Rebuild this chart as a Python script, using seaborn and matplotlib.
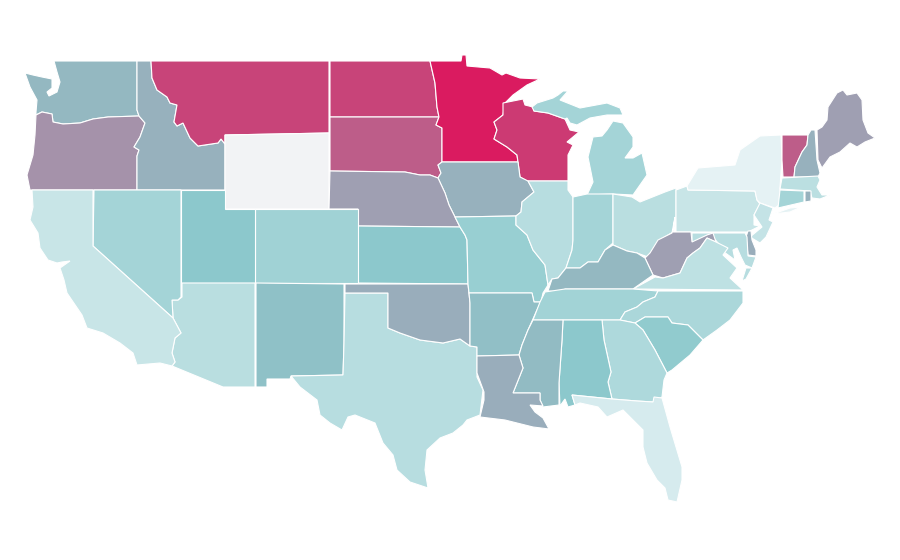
import matplotlib
matplotlib.use("Agg")
import matplotlib.pyplot as plt
import numpy as np
import seaborn as sns

# map outlines, in picture pixels
WA = [(36,115),(36,112),(37,100),(30,87),(25,73),(33,75),(42,77),(52,79),(52,88),(47,92),(49,96),(57,92),(60,82),(57,72),(54,61),(137,61),(137,110),(139,116),(108,117),(93,119),(80,123),(63,124),(53,122),(52,114),(42,112)]
OR = [(36,115),(42,112),(52,114),(53,122),(63,124),(80,123),(93,119),(108,117),(139,116),(145,123),(140,137),(134,147),(139,150),(137,156),(137,190),(30,190),(27,175),(33,155),(35,135)]
ID = [(137,61),(151,61),(152,78),(157,90),(167,97),(170,103),(177,105),(174,122),(177,126),(183,123),(190,138),(198,146),(218,143),(221,139),(225,144),(225,190),(137,190),(137,156),(139,150),(134,147),(140,137),(145,123),(139,116),(137,110)]
MT = [(151,61),(329,61),(329,133),(225,135),(225,144),(221,139),(218,143),(198,146),(190,138),(183,123),(177,126),(174,122),(177,105),(170,103),(167,97),(157,90),(152,78)]
WY = [(225,135),(329,133),(329,209),(225,209)]
ND = [(330,61),(430,61),(435,83),(437,107),(439,117),(330,117)]
SD = [(330,117),(439,117),(436,125),(442,128),(442,162),(438,165),(441,173),(438,178),(430,175),(420,175),(405,172),(330,171)]
MN = [(430,61),(461,61),(462,55),(466,55),(467,66),(490,68),(502,75),(506,73),(520,78),(540,79),(527,85),(513,95),(505,103),(503,115),(494,122),(497,130),(494,139),(507,147),(517,155),(518,162),(442,162),(442,128),(436,125),(439,117),(437,107),(435,83)]
WI = [(503,103),(523,99),(525,105),(533,107),(534,111),(548,113),(565,119),(570,130),(579,132),(567,142),(573,145),(568,155),(568,181),(527,181),(520,177),(518,162),(517,155),(507,147),(494,139),(497,130),(494,122),(503,115)]
MI_UP = [(532,107),(537,103),(553,98),(558,95),(563,91),(568,91),(560,100),(580,108),(607,103),(620,108),(623,115),(607,115),(590,118),(577,125),(570,123),(567,118),(565,119),(548,113),(534,111)]
MI_LOW = [(587,195),(593,182),(588,157),(593,137),(602,136),(607,130),(613,121),(623,123),(633,137),(633,147),(625,158),(633,158),(642,153),(647,175),(633,195),(613,194)]
IA = [(442,162),(518,162),(520,177),(528,181),(534,192),(522,202),(521,212),(516,216),(455,217),(449,205),(445,193),(438,178),(441,173),(438,165)]
NE = [(330,171),(405,172),(420,175),(430,175),(438,178),(445,193),(449,205),(455,217),(460,227),(358,226),(358,209),(329,209)]
KS = [(358,226),(460,227),(465,235),(467,240),(468,284),(358,283)]
CO = [(255,209),(358,209),(358,283),(255,283)]
UT = [(181,190),(225,190),(225,209),(255,209),(255,283),(181,283)]
NM = [(256,283),(344,284),(344,343),(343,375),(291,376),(290,379),(267,379),(267,387),(256,387)]
AZ = [(182,283),(255,283),(255,387),(223,387),(172,366),(175,362),(172,353),(175,338),(181,333),(173,318),(172,300),(178,300),(182,297)]
NV = [(94,190),(181,190),(181,297),(178,300),(172,300),(173,318),(93,246)]
CA = [(32,190),(93,190),(93,246),(173,318),(181,333),(175,338),(172,353),(175,362),(172,366),(160,363),(137,365),(133,353),(120,343),(103,333),(87,328),(82,315),(67,293),(64,280),(60,268),(70,261),(62,262),(57,263),(48,260),(40,248),(38,233),(30,220),(33,207)]
TX = [(345,293),(388,293),(388,328),(400,333),(420,340),(443,343),(460,339),(470,346),(477,347),(477,377),(483,390),(480,415),(467,420),(463,425),(453,433),(440,438),(427,450),(425,470),(428,488),(410,482),(397,470),(393,455),(383,443),(375,423),(355,415),(348,417),(342,430),(330,423),(320,415),(317,400),(300,387),(291,376),(343,375),(344,343)]
OK = [(345,284),(468,284),(470,303),(470,346),(460,339),(443,343),(420,340),(400,333),(388,328),(388,293),(345,293)]
MO = [(455,217),(516,216),(516,225),(527,235),(533,250),(545,265),(548,285),(543,293),(541,302),(534,302),(532,293),(469,293),(468,284),(467,240),(465,235),(460,227)]
AR = [(469,293),(532,293),(534,302),(541,302),(537,310),(528,330),(522,345),(519,355),(477,356),(477,347),(470,346),(470,303)]
IL = [(528,181),(568,181),(568,190),(573,197),(573,240),(572,250),(566,268),(558,278),(552,279),(548,285),(545,265),(533,250),(527,235),(516,225),(516,216),(521,212),(522,202),(534,192)]
IN = [(573,197),(587,194),(613,194),(613,243),(605,250),(598,262),(588,262),(580,268),(566,268),(572,250),(573,240)]
OH = [(613,194),(632,197),(640,202),(655,196),(665,192),(676,188),(676,217),(673,232),(660,240),(648,257),(637,253),(627,251),(613,245)]
PA = [(676,190),(687,186),(688,190),(755,191),(757,200),(760,204),(754,215),(754,225),(760,226),(748,232),(676,232)]
NY = [(688,190),(687,186),(698,168),(735,165),(740,150),(760,136),(781,135),(782,160),(780,187),(779,205),(775,208),(760,203),(757,200),(755,191)]
NY_LI = [(773,214),(790,208),(801,207),(790,212)]
VT = [(782,135),(808,135),(807,145),(802,152),(795,167),(794,177),(783,177),(782,160)]
NH = [(811,130),(815,130),(817,160),(820,173),(818,177),(794,177),(795,167),(802,152),(807,145),(808,135)]
ME = [(817,130),(822,127),(827,120),(828,107),(837,93),(843,90),(847,95),(857,93),(862,100),(863,120),(868,133),(875,138),(865,142),(857,147),(850,143),(840,152),(830,157),(822,168),(818,160)]
MA = [(782,178),(818,176),(820,180),(817,187),(822,195),(830,195),(820,199),(812,198),(810,191),(780,189)]
CT = [(780,190),(804,191),(804,202),(778,208)]
RI = [(805,191),(811,191),(811,201),(805,202)]
NJ = [(760,203),(773,208),(769,220),(773,222),(766,237),(760,243),(750,237),(762,227),(754,215)]
DE = [(748,231),(751,231),(752,240),(756,250),(756,256),(748,255),(746,237)]
MD = [(692,233),(745,233),(747,237),(748,256),(756,257),(752,268),(745,265),(741,257),(737,248),(733,250),(735,260),(724,252),(718,243),(713,237),(708,235),(703,238),(692,243)]
VA_SHORE = [(746,268),(752,268),(746,279),(742,281)]
WV = [(675,217),(673,232),(691,232),(692,242),(707,235),(713,233),(716,242),(707,238),(700,248),(693,253),(687,258),(680,273),(663,278),(653,275),(645,258),(650,253),(658,240),(672,233)]
VA = [(633,289),(655,277),(663,278),(680,273),(687,258),(693,253),(700,248),(707,238),(716,242),(728,248),(723,255),(737,268),(730,278),(743,290)]
KY = [(548,291),(552,279),(558,278),(566,268),(580,268),(588,262),(598,262),(605,250),(613,245),(627,251),(637,253),(645,258),(653,275),(633,289),(565,289),(563,292)]
TN = [(545,292),(565,289),(633,289),(658,291),(655,297),(643,302),(637,307),(625,312),(620,320),(533,320),(540,302)]
NC = [(658,291),(743,291),(743,303),(730,320),(717,330),(703,340),(688,325),(672,323),(668,317),(645,317),(635,323),(620,320),(625,312),(637,307),(643,302),(655,297)]
SC = [(635,323),(645,317),(668,317),(672,323),(688,325),(703,340),(690,355),(672,370),(667,373),(655,350),(643,330)]
GA = [(602,320),(620,320),(635,323),(643,330),(655,350),(667,373),(664,380),(662,397),(653,402),(637,401),(612,399),(608,382),(611,372),(604,340)]
AL = [(563,320),(602,320),(604,340),(611,372),(608,382),(612,399),(572,395),(575,405),(568,407),(565,399),(560,406),(559,383),(562,340)]
MS = [(533,320),(563,320),(562,340),(559,383),(559,405),(543,407),(540,400),(540,393),(513,393),(523,368),(519,355),(522,345),(528,330)]
LA = [(477,356),(519,355),(523,368),(513,393),(540,393),(540,400),(543,406),(530,405),(535,412),(543,418),(549,429),(533,427),(525,425),(505,420),(480,417),(484,400),(484,392),(477,373)]
FL = [(572,395),(612,399),(637,401),(653,402),(654,397),(662,398),(670,427),(682,467),(682,480),(677,502),(668,500),(665,488),(657,480),(647,463),(643,447),(643,430),(623,410),(607,417),(598,407),(580,403),(575,405)]

state_shapes = [WA, OR, ID, MT, WY, ND, SD, MN, WI, MI_UP, MI_LOW, IA, NE, KS, CO, UT, NM, AZ, NV, CA,
                TX, OK, MO, AR, IL, IN, OH, PA, NY, NY_LI, VT, NH, ME, MA, CT, RI, NJ, DE, MD, VA_SHORE,
                WV, VA, KY, TN, NC, SC, GA, AL, MS, LA, FL]
# estimated from the fill colours, 0 to 100; Wyoming has no value
state_values = [55, 66, 57, 88, np.nan, 88, 81, 100, 91, 37, 37, 57, 62, 50, 39, 50, 52, 25, 37, 17,
                26, 58, 43, 53, 26, 37, 25, 17, 1, 1, 81, 57, 62, 24, 37, 57, 19, 58, 26, 26,
                62, 22, 55, 38, 33, 47, 31, 50, 54, 58, 9]

MISSING_COLOR = "#f2f3f5"


def main():
    sns.set_theme(style="white")
    cmap = sns.blend_palette(["#e6f3f5", "#8cc9cc", "#da1b60"], as_cmap=True)

    fig = plt.figure(figsize=(9, 5.6), dpi=100)
    ax = fig.add_axes([0, 0, 1, 1])

    for shape, value in zip(state_shapes, state_values):
        color = MISSING_COLOR if np.isnan(value) else cmap(value / 100)
        xs, ys = zip(*shape)
        ax.fill(xs, ys, facecolor=color, edgecolor="white", linewidth=0.8)

    ax.set_xlim(0, 900)
    ax.set_ylim(560, 0)
    ax.axis("off")
    fig.savefig("out.png", dpi=100)


if __name__ == "__main__":
    main()
